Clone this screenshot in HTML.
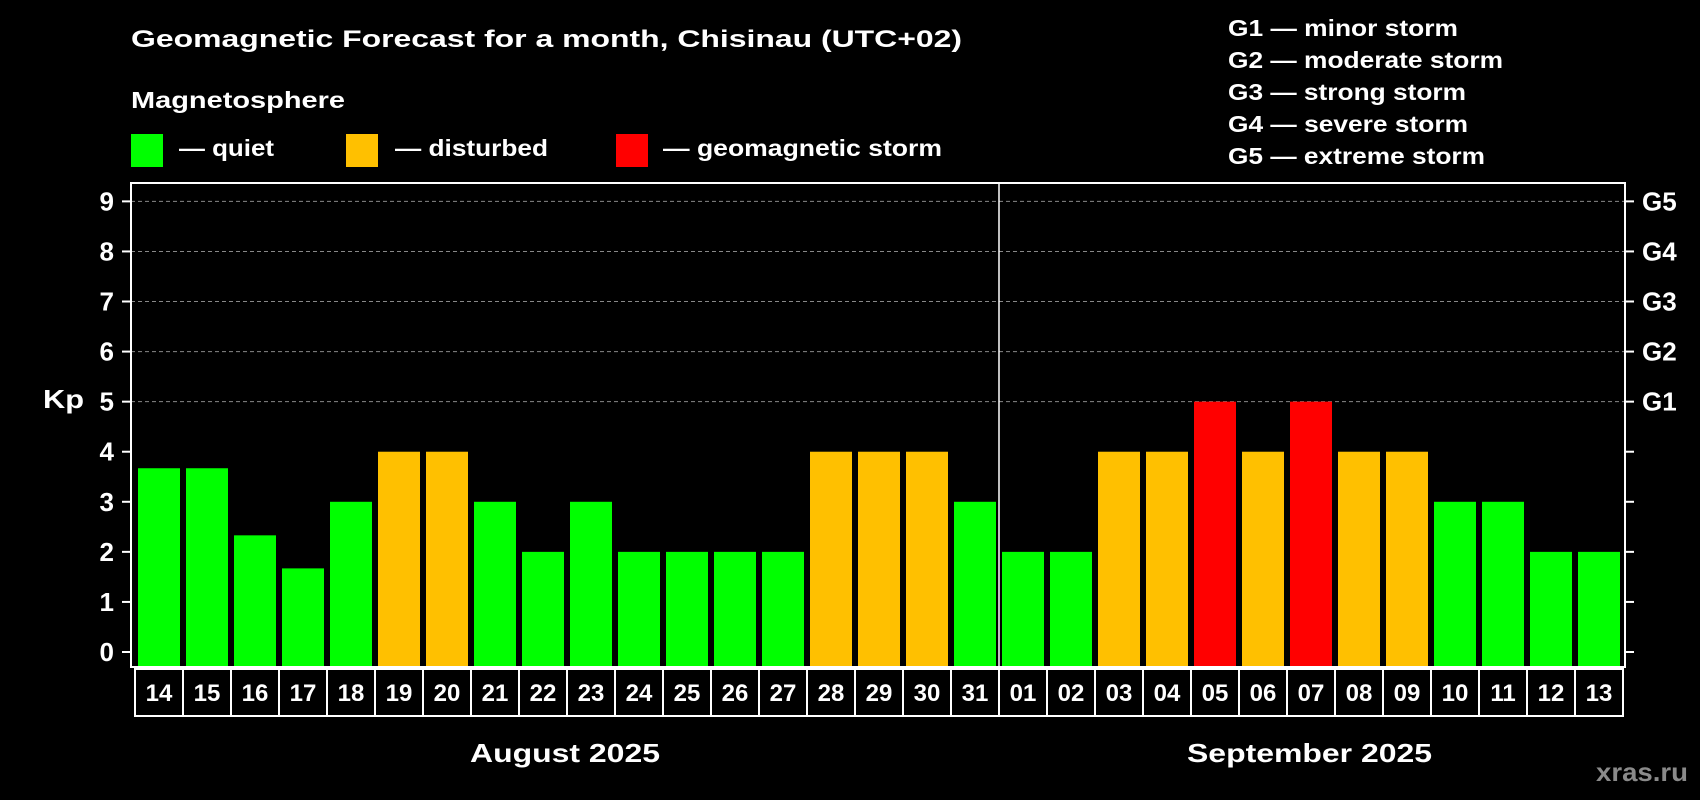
<!DOCTYPE html>
<html><head><meta charset="utf-8"><style>
html,body{margin:0;padding:0;background:#000;}
svg{display:block;font-family:"Liberation Sans",Arial,sans-serif;font-weight:bold;}
</style></head><body>
<svg id="chart" width="1700" height="800" viewBox="0 0 1700 800">
<rect width="1700" height="800" fill="#000"/>
<text x="131" y="47" fill="#fff" font-size="24" textLength="831" lengthAdjust="spacingAndGlyphs">Geomagnetic Forecast for a month, Chisinau (UTC+02)</text>
<text x="131" y="108" fill="#fff" font-size="23" textLength="214" lengthAdjust="spacingAndGlyphs">Magnetosphere</text>
<g><rect x="131" y="134" width="32" height="33" fill="#00ff00"/><text x="179" y="156" fill="#fff" font-size="23" textLength="95" lengthAdjust="spacingAndGlyphs">— quiet</text></g>
<g><rect x="346" y="134" width="32" height="33" fill="#ffc000"/><text x="395" y="156" fill="#fff" font-size="23" textLength="153" lengthAdjust="spacingAndGlyphs">— disturbed</text></g>
<g><rect x="616" y="134" width="32" height="33" fill="#ff0000"/><text x="663" y="156" fill="#fff" font-size="23" textLength="279" lengthAdjust="spacingAndGlyphs">— geomagnetic storm</text></g>
<g fill="#fff" font-size="23">
<text x="1228" y="36" textLength="230" lengthAdjust="spacingAndGlyphs">G1 — minor storm</text>
<text x="1228" y="68" textLength="275" lengthAdjust="spacingAndGlyphs">G2 — moderate storm</text>
<text x="1228" y="100" textLength="238" lengthAdjust="spacingAndGlyphs">G3 — strong storm</text>
<text x="1228" y="132" textLength="240" lengthAdjust="spacingAndGlyphs">G4 — severe storm</text>
<text x="1228" y="164" textLength="257" lengthAdjust="spacingAndGlyphs">G5 — extreme storm</text>
</g>
<text x="43" y="408" fill="#fff" font-size="26" textLength="41" lengthAdjust="spacingAndGlyphs">Kp</text>
<g id="plot"></g>
<text x="470" y="762" fill="#fff" font-size="26" textLength="190" lengthAdjust="spacingAndGlyphs">August 2025</text>
<text x="1187" y="762" fill="#fff" font-size="26" textLength="245" lengthAdjust="spacingAndGlyphs">September 2025</text>
<text x="1596" y="781" fill="#8a8a8a" font-size="26" textLength="92" lengthAdjust="spacingAndGlyphs">xras.ru</text>
</svg>
<script>
const days = ["14","15","16","17","18","19","20","21","22","23","24","25","26","27","28","29","30","31","01","02","03","04","05","06","07","08","09","10","11","12","13"];
const kpValues = [3.67,3.67,2.33,1.67,3,4,4,3,2,3,2,2,2,2,4,4,4,3,2,2,4,4,5,4,5,4,4,3,3,2,2];
const yTicks = [0,1,2,3,4,5,6,7,8,9];
const gLabels = ["G1","G2","G3","G4","G5"];
const gLevels = [5,6,7,8,9];

const NS="http://www.w3.org/2000/svg";
const plot=document.getElementById('plot');
const L=131,R=1625,T=183,B=667;
const y0=652,unit=50.07;
function yScale(v){return y0-v*unit;}
const pitch=48,barW=42,firstX=138;
function xScale(i){return firstX+i*pitch;}
function mk(tag,attrs){const e=document.createElementNS(NS,tag);for(const k in attrs)e.setAttribute(k,attrs[k]);plot.appendChild(e);return e;}

gLevels.forEach(v=>{
  const l=mk('line',{x1:L,x2:R,y1:yScale(v),y2:yScale(v),stroke:'#888','stroke-width':1,'stroke-dasharray':'4,3'});
  
  
});
kpValues.forEach((v,i)=>{
  const c=v>=5?'#ff0000':(v>=4?'#ffc000':'#00ff00');
  const r=mk('rect',{x:xScale(i),y:yScale(v),width:barW,height:B-yScale(v),fill:c});
  
  
});
const fr=mk('rect',{x:L,y:T,width:R-L,height:B-T,fill:'none',stroke:'#fff','stroke-width':2});


const dvx=(xScale(17)+barW+xScale(18))/2;
const dv=mk('line',{x1:dvx,x2:dvx,y1:T,y2:B,stroke:'#fff','stroke-width':1.5});


yTicks.forEach(v=>{
  const y=yScale(v);
  const tl=mk('line',{x1:122,x2:L,y1:y,y2:y,stroke:'#fff','stroke-width':2});
  
  
  const tr=mk('line',{x1:R,x2:R+9,y1:y,y2:y,stroke:'#fff','stroke-width':2});
  
  
  const t=mk('text',{x:114,y:y+9,fill:'#fff','font-size':26,'text-anchor':'end'});
  t.textContent=v;
  
  
});
gLevels.forEach((v,i)=>{
  const t=mk('text',{x:1642,y:yScale(v)+9,fill:'#fff','font-size':26});
  t.textContent=gLabels[i];
  
  
});
days.forEach((d,i)=>{
  const x=xScale(i)-3;
  const c=mk('rect',{x:x,y:669,width:pitch,height:47,fill:'none',stroke:'#fff','stroke-width':2});
  
  
  const t=mk('text',{x:x+pitch/2,y:701,fill:'#fff','font-size':24,'text-anchor':'middle'});
  t.textContent=d;
  
  
});
</script>
</body></html>
